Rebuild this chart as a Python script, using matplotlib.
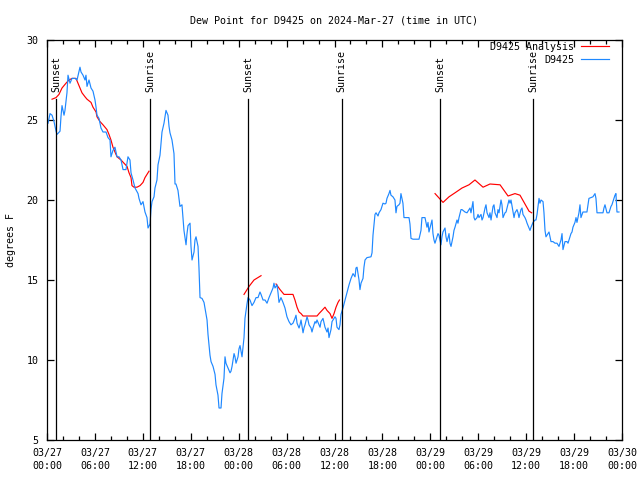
import numpy as np
import matplotlib
matplotlib.use("Agg")
import matplotlib.pyplot as plt
from matplotlib.ticker import FixedLocator

plt.rcParams['font.family'] = ['DejaVu Sans Mono']
FS = 7.2

# ---- data: hours since 2024-03-27 00:00 UTC ----
obs_hours = [0.13, 0.38, 0.63, 0.88, 1.13, 1.25, 1.63, 1.75, 1.88, 2.13, 2.25, 2.50, 2.63, 2.88, 3.13, 3.51, 3.76,
             4.13, 4.26, 4.51, 4.76, 4.88, 5.01, 5.26, 5.51, 5.76, 6.01, 6.14, 6.26, 6.51, 6.76, 7.01, 7.39, 7.64,
             7.89, 8.01, 8.26, 8.51, 8.77, 9.02, 9.27, 9.52, 9.89, 10.14, 10.39, 10.52, 10.77, 11.02, 11.40, 11.52,
             11.77, 12.02, 12.27, 12.52, 12.65, 12.90, 13.02, 13.15, 13.40, 13.52, 13.77, 13.90, 14.15, 14.27, 14.40,
             14.65, 14.78, 14.90, 15.15, 15.28, 15.40, 15.65, 15.90, 16.03, 16.15, 16.40, 16.53, 16.65, 16.90, 17.03,
             17.15, 17.41, 17.53, 17.66, 17.91, 18.03, 18.16, 18.41, 18.53, 18.66, 18.91, 19.03, 19.16, 19.41, 19.66,
             19.78, 20.04, 20.16, 20.41, 20.54, 20.79, 21.04, 21.16, 21.41, 21.54, 21.79, 21.91, 22.16, 22.29, 22.41,
             22.66, 22.92, 23.04, 23.17, 23.42, 23.54, 23.67, 23.92, 24.04, 24.17, 24.42, 24.54, 24.67, 24.79, 25.04,
             25.17, 25.42, 25.67, 25.92, 26.17, 26.42, 26.67, 26.80, 27.05, 27.30, 27.55, 27.80, 28.05, 28.30, 28.42,
             28.55, 28.80, 28.93, 29.05, 29.30, 29.43, 29.55, 29.80, 30.05, 30.30, 30.55, 30.80, 31.05, 31.18, 31.31,
             31.56, 31.68, 31.81, 32.06, 32.18, 32.31, 32.56, 32.68, 32.81, 33.06, 33.18, 33.31, 33.56, 33.68, 33.81,
             34.06, 34.19, 34.31, 34.56, 34.69, 34.81, 35.06, 35.19, 35.31, 35.56, 35.69, 35.81, 36.06, 36.19, 36.31,
             36.56, 36.69, 36.81, 37.06, 37.32, 37.57, 37.82, 38.07, 38.32, 38.57, 38.69, 38.82, 39.07, 39.19, 39.32,
             39.57, 39.69, 39.82, 40.07, 40.57, 40.70, 40.82, 41.07, 41.20, 41.45, 41.57, 41.82, 41.95, 42.07, 42.32,
             42.45, 42.57, 42.82, 42.95, 43.07, 43.32, 43.57, 43.70, 43.82, 44.07, 44.20, 44.32, 44.57, 44.70, 44.82,
             45.33, 45.45, 45.58, 45.83, 46.58, 46.83, 46.95, 47.33, 47.58, 47.71, 47.83, 48.08, 48.21, 48.33, 48.46,
             48.58, 48.83, 48.96, 49.08, 49.33, 49.46, 49.58, 49.84, 49.96, 50.09, 50.34, 50.46, 50.59, 50.84, 50.96,
             51.09, 51.34, 51.46, 51.59, 51.84, 51.97, 52.34, 52.59, 52.97, 53.09, 53.34, 53.47, 53.59, 53.85, 53.97,
             54.09, 54.35, 54.47, 54.60, 54.85, 54.97, 55.10, 55.35, 55.47, 55.60, 55.85, 55.97, 56.10, 56.35, 56.47,
             56.60, 56.85, 56.97, 57.10, 57.35, 57.48, 57.60, 57.85, 57.98, 58.10, 58.35, 58.48, 58.60, 58.85, 58.98,
             59.10, 59.35, 59.48, 59.60, 59.85, 59.98, 60.11, 60.36, 60.48, 60.61, 60.86, 61.11, 61.23, 61.36, 61.61,
             61.73, 61.86, 62.11, 62.23, 62.36, 62.48, 62.61, 62.86, 62.99, 63.11, 63.36, 63.61, 63.86, 63.99, 64.11,
             64.36, 64.49, 64.61, 64.86, 65.11, 65.24, 65.36, 65.61, 65.74, 65.86, 66.11, 66.24, 66.36, 66.61, 66.74,
             66.86, 67.11, 67.61, 67.74, 67.86, 68.36, 68.62, 68.74, 68.87, 69.62, 69.74, 69.87, 70.12, 70.37, 70.62,
             70.74, 70.87, 71.12, 71.24, 71.37, 71.62]
obs_dewpt = [24.8, 25.4, 25.3, 24.9, 24.3, 24.1, 24.3, 25.2, 25.9, 25.3, 25.6, 26.7, 27.8, 27.3, 27.6, 27.6, 27.5,
             28.3, 28.0, 27.8, 27.5, 27.8, 27.1, 27.5, 27.0, 26.8, 26.25, 25.8, 25.3, 25.1, 24.5, 24.25, 24.25, 23.9,
             23.75, 22.7, 23.1, 23.3, 22.7, 22.7, 22.5, 21.9, 21.9, 22.7, 22.5, 21.7, 21.25, 20.75, 20.4, 20.1,
             19.7, 19.9, 19.25, 18.9, 18.25, 18.5, 19.4, 19.9, 20.2, 20.75, 21.25, 22.2, 22.8, 23.5, 24.25,
             24.8, 25.2, 25.6, 25.3, 24.6, 24.2, 23.75, 22.9, 21.0, 21.0, 20.6, 20.1, 19.6, 19.7, 18.9,
             18.1, 17.2, 17.9, 18.4, 18.55, 17.1, 16.25, 16.75, 17.5, 17.7, 17.1, 15.75, 13.9, 13.85, 13.6,
             13.25, 12.5, 11.6, 10.3, 9.9, 9.6, 9.1, 8.45, 7.8, 7.0, 7.0, 7.9, 8.85, 10.2, 9.8,
             9.5, 9.2, 9.3, 9.6, 10.4, 10.2, 9.8, 10.2, 10.7, 10.9, 10.2, 10.75, 11.4, 12.6, 13.5,
             13.9, 13.75, 13.4, 13.6, 13.9, 13.9, 14.25, 14.1, 13.75, 13.75, 13.55, 13.9, 14.2, 14.5, 14.8,
             14.5, 14.7, 14.2, 13.6, 13.9, 13.75, 13.6, 13.25, 12.7, 12.4, 12.2, 12.3, 12.6, 12.8, 12.3,
             12.0, 12.2, 12.5, 11.7, 12.0, 12.2, 12.7, 12.5, 12.2, 12.0, 11.75, 12.0, 12.4, 12.3, 12.5,
             12.2, 12.05, 12.4, 12.6, 12.3, 12.05, 11.75, 12.0, 11.4, 11.9, 12.4, 12.5, 12.7, 12.6, 12.05,
             11.9, 12.2, 12.85, 13.25, 13.75, 14.25, 14.7, 15.1, 15.4, 15.2, 15.75, 15.8, 15.0, 14.4, 14.8,
             15.1, 15.8, 16.25, 16.4, 16.45, 16.7, 17.8, 19.1, 19.2, 19.0, 19.2, 19.4, 19.6, 19.8, 19.75,
             19.8, 20.1, 20.4, 20.6, 20.3, 20.2, 20.0, 19.2, 19.6, 19.7, 19.8, 20.4, 19.8, 18.9, 18.9,
             18.9, 18.5, 17.6, 17.55, 17.55, 18.1, 18.9, 18.9, 18.3, 18.6, 18.0, 18.5, 18.75, 17.9, 17.5,
             17.3, 17.7, 17.9, 17.8, 17.2, 17.7, 18.0, 18.25, 17.7, 17.4, 17.9, 17.3, 17.1, 17.7, 18.1,
             18.3, 18.75, 18.55, 18.9, 19.4, 19.4, 19.25, 19.2, 19.5, 19.2, 19.9, 18.9, 18.75, 18.9, 19.1,
             18.9, 19.1, 18.75, 18.9, 19.5, 19.7, 19.2, 18.9, 19.2, 18.75, 19.6, 19.7, 19.2, 18.9, 19.4,
             19.2, 20.0, 19.7, 18.9, 19.2, 19.25, 19.5, 20.0, 19.8, 20.0, 19.25, 18.9, 19.2, 19.4, 19.2,
             18.9, 19.4, 19.5, 19.1, 18.9, 18.75, 18.55, 18.25, 18.1, 18.3, 18.6, 18.75, 18.75, 19.1, 20.1,
             19.8, 20.0, 19.9, 19.2, 18.1, 17.7, 17.8, 18.0, 17.7, 17.4, 17.4, 17.3, 17.3, 17.2, 17.1,
             17.5, 17.9, 16.9, 17.4, 17.4, 17.3, 17.5, 17.9, 18.0, 18.3, 18.6, 18.9, 18.6, 19.2, 19.7,
             18.9, 19.25, 19.25, 19.7, 20.1, 20.2, 20.4, 20.1, 19.2, 19.2, 19.5, 19.7, 19.2, 19.2, 19.6,
             19.7, 19.9, 20.3, 20.4, 19.25, 19.25]

ana_hours_1 = [0.63, 1.13, 1.50, 1.88, 2.38, 2.75, 3.13, 3.63, 3.88, 4.13, 4.38, 4.76, 5.01, 5.51, 5.76, 6.14,
               6.26, 6.64, 7.01, 7.51, 7.76, 8.01, 8.26, 8.51, 8.77, 9.27, 9.64, 10.02, 10.27, 10.52, 10.64,
               10.89, 11.27, 11.65, 12.02, 12.27, 12.77]
ana_dewpt_1 = [26.3, 26.4, 26.6, 27.0, 27.3, 27.5, 27.6, 27.6, 27.3, 27.0, 26.7, 26.45, 26.3, 26.1, 25.8, 25.5,
               25.2, 24.9, 24.7, 24.4, 24.1, 23.75, 23.3, 23.0, 22.7, 22.5, 22.3, 22.1, 21.7, 21.4, 20.9,
               20.8, 20.8, 20.9, 21.1, 21.4, 21.8]
ana_hours_2 = [24.67, 25.30, 25.92, 26.80]
ana_dewpt_2 = [14.1, 14.6, 15.0, 15.27]
ana_hours_3 = [28.68, 29.18, 29.68, 30.80, 31.05, 31.31, 31.56, 31.81, 32.06, 33.81, 34.06, 34.44, 34.81, 35.06,
               35.44, 35.69, 35.94, 36.19, 36.44, 36.62]
ana_dewpt_3 = [14.75, 14.4, 14.1, 14.1, 13.75, 13.3, 13.0, 12.9, 12.75, 12.75, 12.9, 13.1, 13.3, 13.1,
               12.9, 12.6, 12.9, 13.3, 13.6, 13.75]
ana_hours_4 = [48.59, 49.59, 50.34, 51.09, 51.97, 52.84, 53.59, 54.60, 55.47, 56.73, 57.73, 58.60, 59.23,
               59.85, 60.36, 60.69]
ana_dewpt_4 = [20.4, 19.85, 20.2, 20.45, 20.75, 20.95, 21.25, 20.8, 21.0, 20.95, 20.25, 20.4, 20.3,
               19.75, 19.3, 19.2]
ana_segments = [(ana_hours_1, ana_dewpt_1), (ana_hours_2, ana_dewpt_2),
                (ana_hours_3, ana_dewpt_3), (ana_hours_4, ana_dewpt_4)]

sun_hours = [1.13, 12.90, 25.21, 36.88, 49.25, 60.90]
sun_labels = ['Sunset', 'Sunrise', 'Sunset', 'Sunrise', 'Sunset', 'Sunrise']

xtick_hours = [0, 6, 12, 18, 24, 30, 36, 42, 48, 54, 60, 66, 72]
xtick_labels = ['03/27\n00:00', '03/27\n06:00', '03/27\n12:00', '03/27\n18:00',
                '03/28\n00:00', '03/28\n06:00', '03/28\n12:00', '03/28\n18:00',
                '03/29\n00:00', '03/29\n06:00', '03/29\n12:00', '03/29\n18:00',
                '03/30\n00:00']
ytick_vals = [5, 10, 15, 20, 25, 30]

# ---- figure ----
fig = plt.figure(figsize=(6.4, 4.8), dpi=100)
ax = fig.add_axes([47 / 640, 40 / 480, 575 / 640, 400 / 480])

for i, (hh, vv) in enumerate(ana_segments):
    ax.plot(hh, vv, color='#ff0000', lw=0.85, label='D9425 Analysis' if i == 0 else None)
ax.plot(obs_hours, obs_dewpt, color='#1e88ff', lw=0.85, label='D9425')

trans = ax.get_xaxis_transform()
for t, lab in zip(sun_hours, sun_labels):
    ax.axvline(t, ymin=0, ymax=0.853, color='black', lw=0.9, zorder=5)
    ax.text(t, 0.87, lab, rotation=90, transform=trans, ha='center', va='bottom',
            fontsize=FS, zorder=6)

ax.set_xlim(0, 72)
ax.set_ylim(5, 30)
ax.set_xticks(xtick_hours)
ax.set_xticklabels(xtick_labels, fontsize=FS, linespacing=1.35)
ax.xaxis.set_minor_locator(FixedLocator(np.arange(0, 73, 2)))
ax.set_yticks(ytick_vals)
ax.set_yticklabels([str(v) for v in ytick_vals], fontsize=FS)
ax.tick_params(which='both', direction='in', top=True, right=True, width=0.9, color='black')
ax.tick_params(which='major', length=5, pad=6)
ax.tick_params(which='minor', length=3)
for s in ax.spines.values():
    s.set_linewidth(0.9)

ax.set_ylabel('degrees F', fontsize=FS, labelpad=8)
ax.set_title('Dew Point for D9425 on 2024-Mar-27 (time in UTC)', fontsize=FS, pad=12)

leg = ax.legend(loc='upper right', bbox_to_anchor=(0.9774, 0.995), borderaxespad=0, borderpad=0,
                frameon=False, markerfirst=False, fontsize=FS, handlelength=2.8,
                handletextpad=0.7, labelspacing=0.3)

fig.savefig('out.png', dpi=100)
